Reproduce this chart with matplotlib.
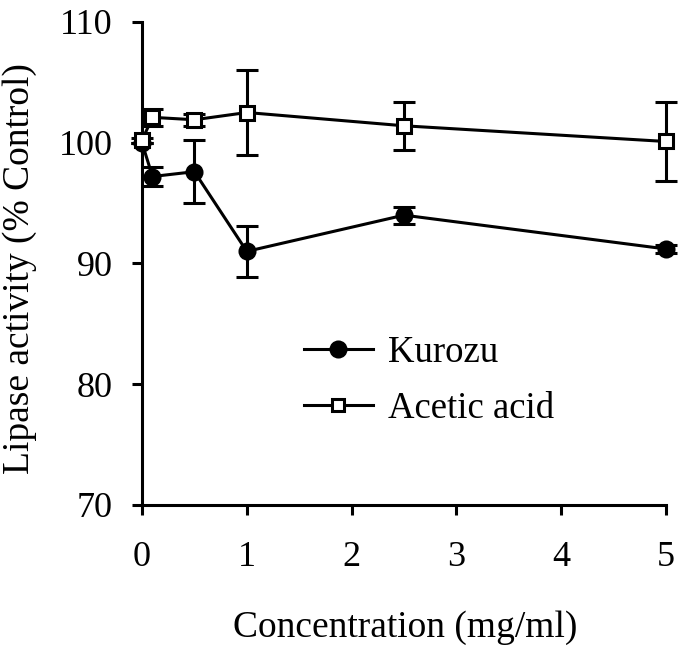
import numpy as np
import matplotlib.pyplot as plt

plt.rcParams['font.family'] = ['Liberation Serif', 'DejaVu Serif']

# concentracion (mg/ml)
conc = [0, 0.1, 0.5, 1, 2.5, 5]

kurozu = [100, 97.2, 97.6, 91.0, 94.0, 91.2]
kurozu_err = [0.0, 0.8, 2.6, 2.1, 0.7, 0.3]

acetico = [100.2, 102.1, 101.9, 102.5, 101.4, 100.1]
acetico_err = [0.2, 0.7, 0.5, 3.5, 2.0, 3.3]

fig = plt.figure(figsize=(6.85, 6.51), dpi=100)
ax = fig.add_axes([0.2073, 0.2243, 0.765, 0.742])

# barras de error (sin leyenda)
ax.errorbar(conc, kurozu, yerr=kurozu_err, fmt="none", ecolor="black",
            capsize=8, capthick=2.2, elinewidth=2.2, clip_on=False, zorder=2)
ax.errorbar(conc, acetico, yerr=acetico_err, fmt="none", ecolor="black",
            capsize=8, capthick=2.2, elinewidth=2.2, clip_on=False, zorder=2)

# lineas con marcadores
ax.plot(conc, kurozu, color="black", lw=2.2, marker="o", ms=11,
        mfc="black", mec="black", mew=2, label="Kurozu", clip_on=False, zorder=3)
ax.plot(conc, acetico, color="black", lw=2.2, marker="s", ms=10,
        mfc="white", mec="black", mew=2.2, label="Acetic acid", clip_on=False, zorder=4)

ax.set_xlim(0, 5)
ax.set_ylim(70, 110)
ax.set_xticks([0, 1, 2, 3, 4, 5])
ax.set_yticks([70, 80, 90, 100, 110])
ax.set_xlabel("Concentration (mg/ml)", fontsize=27)
ax.set_ylabel("Lipase activity (% Control)", fontsize=27)
ax.xaxis.label.set_va("center")
ax.yaxis.label.set_va("center")
ax.xaxis.set_label_coords(0.502, -0.253)
ax.yaxis.set_label_coords(-0.233, 0.49)

for s in ["top", "right"]:
    ax.spines[s].set_visible(False)
for s in ["left", "bottom"]:
    ax.spines[s].set_linewidth(2.2)
ax.tick_params(direction="out", length=7.2, width=2.2, labelsize=26)
ax.tick_params(axis="x", pad=19)
ax.tick_params(axis="y", pad=14)

leg = ax.legend(loc="upper left", bbox_to_anchor=(0.245, 0.42), frameon=False,
                fontsize=26.5, handlelength=1.9, labelspacing=0.6, handletextpad=0.4)
leg.legend_handles[0].set_markersize(11)
leg.legend_handles[1].set_markersize(9)

plt.savefig("out.png", dpi=100)
